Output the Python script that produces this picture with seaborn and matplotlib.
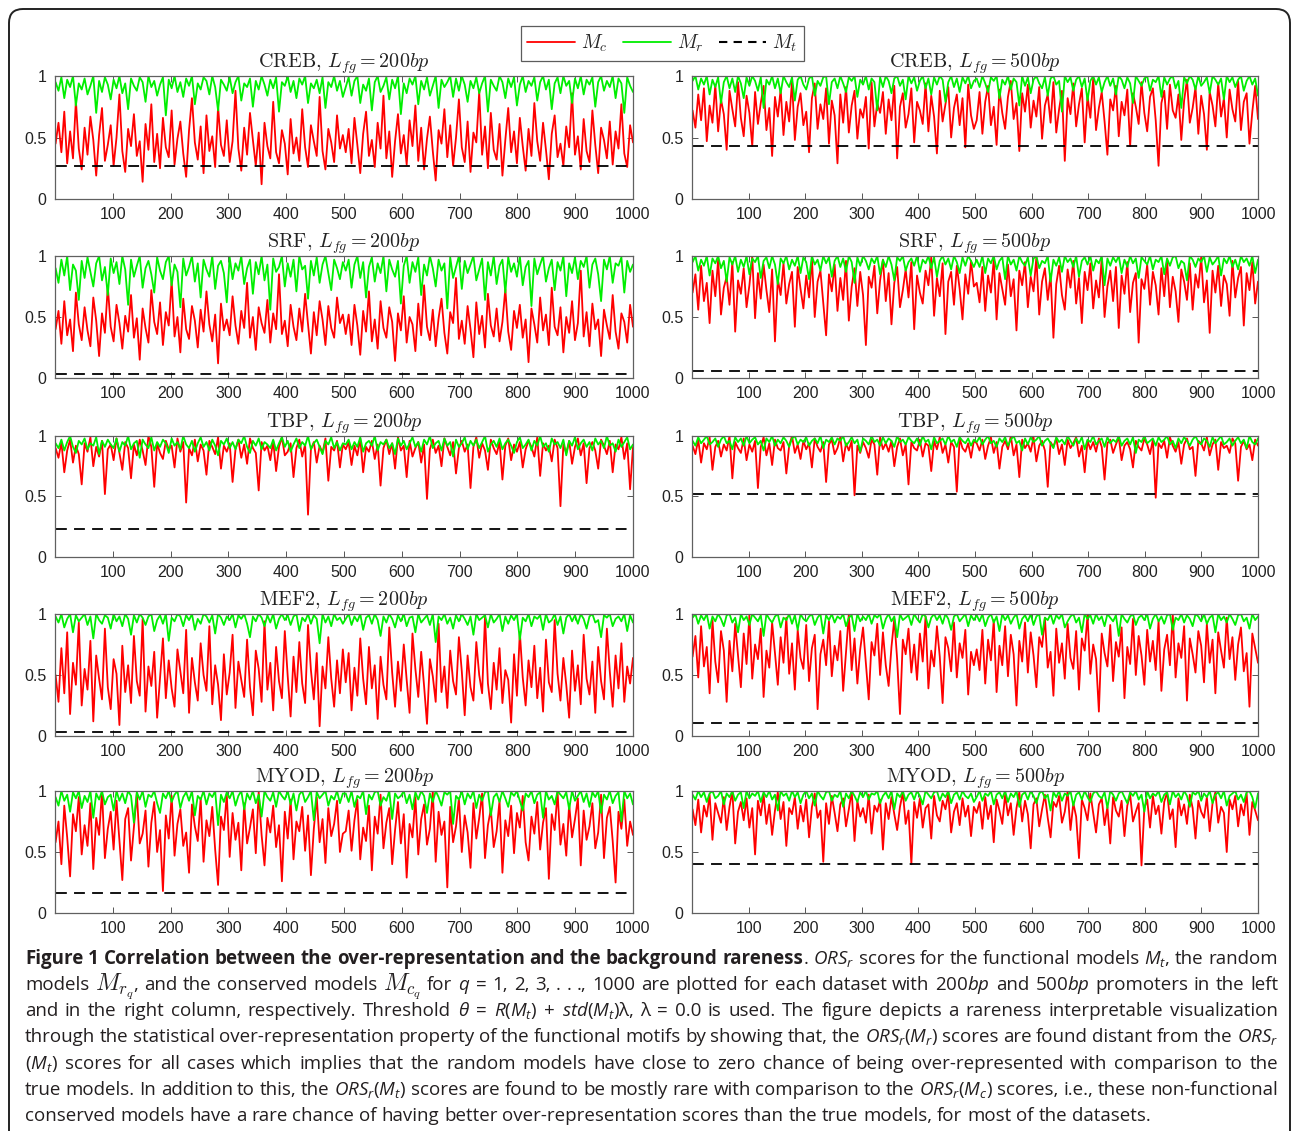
import numpy as np
import matplotlib
matplotlib.use("Agg")
import matplotlib.pyplot as plt
import seaborn as sns
from matplotlib.patches import FancyBboxPatch
from matplotlib.transforms import IdentityTransform
from matplotlib.lines import Line2D
from matplotlib.font_manager import FontProperties

# ---------------- data (ORS_r scores in percent, sampled every ~5 models) ----------------
creb_200_mc = [45, 62, 38, 71, 29, 55, 33, 80, 41, 24, 58, 36, 67, 48, 19, 52, 74, 31, 44, 60,
               27, 50, 85, 39, 22, 57, 43, 69, 35, 47, 14, 61, 40, 77, 30, 53, 25, 66, 42, 34,
               72, 28, 49, 63, 37, 18, 56, 82, 46, 32, 59, 21, 68, 39, 51, 26, 75, 44, 35, 64,
               30, 47, 88, 41, 23, 58, 36, 70, 48, 27, 54, 12, 62, 43, 33, 79, 38, 29, 56, 45,
               20, 65, 37, 50, 31, 73, 42, 26, 60, 47, 35, 83, 39, 24, 57, 46, 30, 68, 41, 52,
               38, 57, 29, 66, 44, 21, 53, 71, 35, 48, 26, 62, 41, 84, 33, 55, 18, 47, 69, 37,
               52, 28, 64, 43, 76, 31, 58, 24, 49, 67, 39, 15, 56, 45, 73, 34, 60, 27, 50, 81,
               42, 30, 63, 22, 54, 46, 87, 36, 59, 25, 70, 40, 32, 61, 19, 48, 74, 38, 55, 29,
               66, 43, 23, 57, 35, 78, 47, 31, 62, 40, 16, 53, 68, 34, 45, 27, 59, 42, 86, 36,
               51, 24, 65, 39, 30, 72, 44, 21, 58, 48, 33, 63, 28, 55, 41, 77, 37, 26, 60, 46]
creb_200_mr = [95, 88, 99, 82, 97, 91, 100, 76, 94, 89, 98, 85, 92, 100, 70, 96, 87, 99, 93, 81,
               97, 90, 100, 86, 94, 73, 98, 92, 88, 99, 95, 79, 100, 91, 96, 84, 93, 99, 68, 97,
               90, 100, 87, 95, 83, 98, 92, 100, 77, 94, 89, 99, 96, 85, 100, 91, 72, 97, 93, 88,
               99, 86, 95, 100, 80, 94, 91, 98, 75, 96, 89, 100, 93, 84, 97, 90, 99, 71, 95, 92,
               100, 87, 96, 82, 98, 93, 100, 78, 94, 90, 97, 86, 99, 74, 95, 91, 100, 88, 96, 83,
               91, 99, 84, 96, 100, 78, 93, 88, 98, 72, 95, 100, 87, 92, 99, 81, 97, 90, 100, 69,
               94, 86, 98, 93, 100, 77, 96, 89, 99, 84, 92, 100, 74, 97, 91, 95, 100, 83, 98, 88,
               100, 93, 79, 96, 90, 99, 86, 94, 100, 71, 97, 92, 88, 100, 95, 82, 98, 91, 99, 76,
               93, 100, 87, 96, 92, 99, 80, 95, 100, 89, 97, 73, 94, 99, 86, 100, 92, 96, 78, 98,
               90, 100, 85, 97, 93, 99, 75, 95, 100, 88, 96, 91, 100, 82, 98, 94, 70, 99, 92, 87]
creb_500_mc = [72, 58, 85, 64, 90, 47, 76, 62, 93, 55, 81, 69, 40, 88, 73, 59, 95, 66, 51, 84,
               70, 43, 87, 61, 78, 92, 56, 74, 35, 83, 67, 89, 52, 79, 63, 96, 48, 75, 86, 60,
               71, 38, 82, 94, 57, 77, 65, 90, 45, 80, 68, 29, 85, 62, 91, 54, 76, 88, 49, 73,
               66, 83, 41, 95, 59, 78, 70, 87, 53, 81, 64, 92, 33, 75, 86, 58, 69, 90, 46, 79,
               72, 61, 94, 55, 84, 67, 37, 88, 63, 77, 91, 50, 74, 85, 60, 82, 42, 93, 68, 57,
               64, 87, 53, 79, 92, 60, 75, 44, 89, 70, 57, 83, 96, 65, 78, 39, 86, 71, 93, 58,
               80, 67, 91, 49, 76, 85, 62, 95, 54, 73, 88, 31, 82, 69, 94, 59, 77, 90, 46, 84,
               66, 98, 56, 74, 87, 63, 36, 81, 72, 92, 51, 79, 68, 89, 43, 86, 75, 61, 95, 70,
               55, 83, 90, 64, 27, 78, 88, 57, 93, 72, 66, 85, 48, 80, 97, 62, 74, 91, 53, 84,
               69, 40, 87, 76, 59, 94, 67, 82, 50, 89, 73, 63, 96, 56, 79, 86, 45, 71, 92, 65]
creb_500_mr = [96, 100, 89, 98, 93, 100, 85, 97, 91, 99, 78, 95, 100, 90, 98, 87, 100, 94, 82, 99,
               92, 100, 96, 88, 99, 74, 97, 93, 100, 90, 98, 86, 100, 95, 91, 99, 80, 97, 100, 93,
               89, 98, 100, 84, 96, 92, 99, 100, 77, 95, 98, 90, 100, 94, 87, 99, 96, 100, 83, 97,
               93, 100, 89, 98, 95, 72, 99, 91, 100, 96, 86, 98, 100, 92, 97, 81, 100, 94, 99, 88,
               96, 100, 90, 98, 85, 99, 93, 100, 97, 79, 95, 100, 91, 98, 87, 99, 94, 100, 90, 96,
               98, 91, 100, 94, 87, 99, 96, 100, 82, 97, 93, 100, 89, 98, 95, 76, 100, 92, 99, 86,
               97, 100, 94, 90, 99, 84, 98, 100, 93, 96, 71, 100, 95, 99, 88, 97, 100, 91, 98, 80,
               96, 100, 93, 99, 87, 95, 100, 92, 98, 85, 100, 97, 90, 99, 94, 78, 100, 96, 92, 98,
               100, 88, 97, 95, 100, 83, 99, 93, 98, 100, 90, 96, 74, 99, 94, 100, 97, 89, 100, 92,
               95, 99, 86, 100, 97, 93, 98, 81, 100, 95, 99, 91, 97, 100, 88, 96, 100, 93, 98, 84]
srf_200_mc = [40, 55, 28, 63, 35, 48, 22, 70, 44, 31, 58, 39, 26, 66, 47, 18, 53, 37, 75, 42,
              30, 60, 45, 24, 51, 38, 68, 33, 49, 15, 57, 41, 29, 72, 46, 36, 62, 27, 54, 43,
              80, 34, 50, 21, 65, 40, 32, 59, 47, 25, 56, 38, 71, 44, 30, 52, 12, 61, 39, 48,
              35, 67, 43, 28, 55, 41, 78, 33, 50, 23, 58, 45, 37, 64, 29, 53, 40, 85, 36, 47,
              26, 60, 42, 31, 57, 38, 69, 44, 20, 54, 35, 63, 48, 27, 59, 41, 33, 66, 45, 52,
              36, 52, 27, 60, 43, 19, 55, 38, 71, 30, 48, 24, 63, 41, 33, 58, 46, 14, 53, 39,
              67, 29, 50, 44, 22, 61, 35, 76, 42, 31, 56, 26, 49, 65, 37, 20, 54, 45, 82, 32,
              47, 28, 59, 40, 17, 62, 36, 51, 25, 69, 43, 34, 57, 30, 46, 73, 38, 23, 55, 41,
              60, 33, 48, 13, 57, 44, 29, 66, 39, 52, 27, 74, 42, 35, 58, 21, 50, 37, 63, 31,
              45, 88, 34, 54, 26, 61, 40, 48, 18, 56, 43, 32, 68, 38, 24, 53, 46, 29, 60, 42]
srf_200_mr = [90, 78, 97, 84, 100, 72, 93, 88, 64, 96, 82, 99, 87, 75, 94, 100, 80, 91, 68, 98,
              86, 95, 77, 100, 89, 60, 97, 83, 92, 100, 74, 90, 96, 85, 70, 99, 88, 81, 95, 100,
              76, 93, 87, 58, 98, 84, 91, 100, 79, 94, 66, 97, 89, 83, 100, 73, 92, 96, 86, 62,
              99, 81, 94, 88, 100, 77, 90, 97, 69, 95, 85, 100, 80, 93, 56, 98, 87, 91, 100, 75,
              94, 83, 97, 71, 100, 89, 92, 65, 96, 84, 99, 78, 93, 100, 86, 72, 97, 90, 81, 95,
              88, 97, 74, 93, 100, 82, 95, 66, 91, 99, 79, 94, 86, 100, 71, 97, 89, 83, 96, 61,
              92, 100, 78, 95, 87, 99, 68, 93, 84, 100, 90, 75, 97, 88, 94, 57, 99, 82, 91, 100,
              73, 96, 86, 93, 100, 80, 89, 98, 64, 95, 84, 100, 77, 92, 97, 70, 99, 87, 94, 83,
              100, 76, 91, 96, 59, 98, 85, 93, 100, 79, 90, 97, 72, 95, 88, 100, 67, 94, 86, 99,
              81, 96, 91, 100, 74, 93, 98, 85, 63, 97, 89, 100, 78, 94, 92, 99, 70, 96, 87, 93]
srf_500_mc = [70, 85, 56, 92, 63, 78, 45, 88, 67, 97, 52, 74, 83, 60, 95, 38, 80, 69, 90, 58,
              76, 100, 49, 86, 65, 93, 72, 54, 89, 30, 81, 68, 94, 61, 77, 87, 42, 91, 73, 57,
              84, 66, 98, 50, 79, 88, 62, 35, 85, 71, 93, 55, 82, 64, 96, 47, 75, 90, 59, 87,
              68, 27, 83, 74, 92, 53, 80, 97, 63, 86, 44, 78, 91, 58, 72, 89, 66, 95, 40, 84,
              70, 61, 88, 76, 99, 51, 82, 67, 94, 36, 79, 87, 60, 92, 73, 48, 85, 69, 96, 75,
              78, 62, 91, 55, 84, 70, 97, 48, 86, 73, 60, 93, 67, 81, 39, 88, 76, 95, 58, 83,
              71, 99, 52, 79, 90, 64, 85, 33, 77, 92, 68, 56, 89, 74, 96, 61, 82, 45, 87, 72,
              94, 57, 80, 66, 98, 50, 75, 88, 63, 91, 41, 84, 69, 95, 54, 78, 86, 29, 81, 73,
              93, 60, 87, 76, 52, 90, 67, 97, 58, 83, 71, 46, 89, 79, 64, 94, 56, 85, 74, 99,
              62, 80, 37, 88, 70, 92, 59, 84, 77, 51, 96, 66, 82, 91, 43, 86, 72, 95, 61, 79]
srf_500_mr = [95, 100, 88, 97, 92, 100, 84, 98, 94, 100, 90, 96, 79, 99, 93, 100, 87, 97, 91, 100,
              85, 98, 95, 100, 82, 96, 99, 90, 100, 93, 77, 98, 94, 100, 89, 97, 92, 100, 86, 99,
              95, 81, 100, 93, 97, 88, 100, 94, 99, 83, 96, 100, 91, 98, 87, 100, 95, 78, 99, 92,
              100, 96, 89, 98, 94, 100, 85, 97, 91, 100, 93, 80, 99, 96, 100, 88, 95, 98, 92, 100,
              87, 97, 94, 100, 90, 99, 83, 96, 100, 93, 98, 89, 100, 95, 86, 99, 92, 100, 96, 91,
              97, 91, 100, 86, 98, 94, 100, 89, 96, 99, 81, 100, 93, 97, 88, 100, 95, 92, 99, 84,
              98, 100, 90, 96, 94, 100, 79, 97, 92, 99, 87, 100, 95, 98, 91, 100, 83, 96, 99, 93,
              100, 88, 97, 94, 100, 76, 98, 92, 99, 95, 100, 86, 97, 91, 100, 94, 98, 82, 99, 96,
              93, 100, 89, 97, 95, 100, 85, 98, 92, 99, 100, 90, 96, 94, 80, 100, 97, 91, 98, 95,
              100, 87, 99, 93, 96, 100, 84, 98, 94, 100, 91, 97, 89, 100, 95, 98, 92, 100, 86, 97]
tbp_200_mc = [90, 82, 95, 70, 88, 97, 78, 92, 85, 60, 94, 87, 99, 75, 91, 83, 96, 52, 89, 93,
              80, 98, 86, 72, 95, 90, 65, 93, 84, 97, 88, 76, 100, 91, 58, 94, 86, 81, 96, 89,
              92, 74, 98, 87, 95, 45, 90, 84, 97, 79, 93, 88, 68, 96, 91, 85, 99, 73, 92, 87,
              94, 62, 89, 97, 82, 93, 77, 98, 90, 86, 55, 95, 88, 92, 80, 96, 71, 91, 99, 84,
              87, 94, 66, 90, 97, 83, 93, 35, 89, 95, 78, 92, 86, 98, 63, 91, 88, 96, 74, 93,
              89, 95, 76, 92, 84, 98, 70, 91, 87, 96, 81, 93, 59, 90, 97, 85, 94, 73, 99, 88,
              92, 66, 96, 83, 90, 95, 78, 93, 48, 89, 97, 86, 92, 75, 98, 91, 84, 95, 69, 90,
              96, 87, 93, 57, 91, 99, 82, 94, 88, 72, 97, 90, 85, 95, 64, 92, 98, 80, 93, 87,
              95, 74, 89, 96, 91, 83, 99, 67, 94, 88, 92, 79, 97, 90, 42, 93, 86, 96, 77, 91,
              98, 84, 94, 61, 90, 95, 88, 73, 97, 92, 85, 96, 70, 93, 89, 99, 81, 94, 56, 91]
tbp_200_mr = [94, 90, 97, 88, 95, 100, 91, 86, 96, 93, 98, 89, 94, 92, 99, 85, 96, 91, 97, 93,
              90, 98, 87, 95, 92, 100, 89, 94, 96, 82, 97, 93, 90, 99, 88, 95, 91, 97, 94, 86,
              98, 92, 95, 89, 100, 93, 90, 96, 87, 94, 99, 91, 95, 88, 97, 92, 84, 96, 93, 98,
              90, 95, 89, 97, 94, 100, 91, 86, 96, 92, 98, 89, 95, 93, 90, 97, 88, 94, 99, 91,
              96, 87, 93, 98, 90, 95, 92, 100, 89, 94, 97, 91, 85, 96, 93, 99, 90, 95, 88, 94,
              93, 97, 89, 95, 91, 99, 87, 94, 96, 92, 100, 88, 95, 93, 97, 90, 94, 85, 98, 92,
              96, 89, 94, 99, 91, 95, 87, 97, 93, 100, 90, 94, 96, 88, 98, 92, 95, 83, 97, 91,
              94, 99, 89, 96, 92, 97, 90, 95, 100, 87, 93, 96, 91, 98, 89, 94, 97, 92, 86, 95,
              99, 90, 93, 97, 88, 96, 92, 100, 91, 94, 87, 98, 93, 95, 90, 97, 84, 96, 92, 99,
              89, 94, 97, 91, 95, 88, 98, 93, 96, 90, 100, 92, 94, 87, 97, 91, 95, 99, 89, 93]
tbp_500_mc = [92, 85, 97, 78, 94, 89, 99, 72, 91, 96, 83, 93, 88, 100, 65, 95, 90, 86, 98, 80,
              93, 87, 96, 57, 91, 99, 84, 94, 76, 97, 90, 88, 95, 69, 92, 100, 86, 93, 81, 96,
              89, 94, 74, 98, 91, 87, 95, 62, 93, 97, 85, 90, 99, 79, 94, 88, 96, 51, 92, 86,
              95, 90, 82, 97, 93, 68, 99, 89, 94, 87, 96, 75, 91, 98, 84, 93, 60, 95, 90, 88,
              97, 83, 94, 92, 71, 96, 89, 99, 86, 93, 78, 95, 91, 54, 98, 90, 87, 94, 82, 96,
              94, 88, 97, 81, 92, 99, 86, 95, 73, 91, 96, 89, 100, 84, 93, 66, 97, 90, 94, 87,
              99, 79, 92, 96, 88, 58, 95, 91, 98, 85, 93, 76, 97, 90, 94, 99, 83, 92, 70, 96,
              89, 95, 87, 98, 91, 64, 94, 97, 86, 93, 99, 80, 92, 95, 89, 74, 96, 91, 88, 98,
              93, 85, 97, 49, 94, 90, 96, 82, 99, 92, 87, 95, 77, 93, 98, 89, 91, 67, 96, 94,
              88, 99, 84, 93, 97, 72, 95, 90, 92, 86, 98, 94, 63, 91, 96, 89, 93, 80, 97, 92]
tbp_500_mr = [96, 92, 99, 94, 97, 100, 93, 95, 98, 91, 97, 100, 94, 96, 89, 99, 95, 98, 92, 100,
              94, 97, 99, 93, 96, 88, 98, 95, 100, 92, 97, 94, 99, 96, 91, 98, 100, 93, 97, 95,
              99, 92, 96, 98, 94, 100, 90, 97, 95, 99, 93, 98, 96, 100, 92, 95, 99, 94, 97, 87,
              98, 96, 93, 100, 95, 97, 92, 99, 94, 98, 96, 91, 100, 95, 97, 93, 99, 96, 94, 98,
              92, 100, 95, 97, 89, 99, 94, 96, 98, 93, 100, 95, 97, 91, 99, 96, 94, 98, 92, 97,
              95, 99, 93, 97, 100, 94, 96, 91, 98, 95, 99, 92, 97, 100, 94, 96, 88, 98, 93, 99,
              95, 97, 100, 92, 96, 98, 94, 90, 99, 95, 97, 93, 100, 96, 92, 98, 94, 99, 89, 97,
              95, 100, 93, 96, 98, 91, 99, 94, 97, 95, 100, 92, 96, 98, 93, 99, 86, 97, 95, 100,
              94, 96, 98, 92, 99, 95, 97, 100, 93, 96, 90, 98, 94, 99, 96, 92, 97, 100, 95, 93,
              98, 96, 91, 99, 94, 97, 100, 93, 95, 98, 92, 96, 99, 94, 97, 90, 100, 95, 93, 98]
mef2_200_mc = [50, 28, 72, 35, 85, 18, 60, 42, 93, 25, 55, 38, 78, 12, 66, 47, 30, 88, 40, 22,
               63, 51, 9, 74, 36, 58, 27, 82, 45, 33, 96, 20, 57, 41, 69, 15, 48, 80, 31, 62,
               39, 24, 71, 53, 35, 87, 19, 64, 44, 29, 76, 50, 37, 90, 26, 58, 42, 13, 67, 34,
               52, 83, 23, 61, 46, 32, 79, 40, 17, 70, 55, 28, 94, 38, 60, 21, 73, 45, 31, 86,
               49, 16, 65, 36, 77, 43, 27, 91, 54, 30, 68, 8, 57, 39, 81, 47, 24, 62, 35, 71,
               44, 68, 21, 56, 33, 80, 47, 26, 73, 39, 58, 14, 65, 42, 30, 89, 52, 24, 61, 37,
               75, 46, 19, 84, 55, 32, 69, 41, 10, 63, 49, 28, 92, 36, 57, 23, 70, 45, 34, 81,
               53, 17, 66, 40, 29, 77, 50, 35, 98, 43, 22, 60, 38, 72, 27, 54, 46, 11, 67, 33,
               85, 48, 25, 62, 40, 74, 31, 56, 20, 79, 44, 36, 95, 51, 29, 64, 42, 15, 70, 37,
               58, 26, 83, 47, 34, 61, 19, 73, 45, 30, 88, 53, 24, 66, 39, 76, 28, 57, 43, 64]
mef2_200_mr = [98, 93, 100, 89, 96, 100, 85, 99, 94, 97, 100, 91, 98, 80, 100, 95, 92, 99, 97, 88,
               100, 94, 98, 90, 100, 96, 83, 99, 93, 100, 97, 91, 98, 100, 86, 95, 99, 92, 100, 78,
               97, 94, 100, 98, 90, 99, 95, 100, 87, 96, 92, 100, 98, 93, 99, 84, 100, 97, 91, 98,
               95, 100, 89, 99, 96, 100, 92, 81, 98, 94, 100, 97, 90, 99, 93, 100, 88, 96, 100, 95,
               99, 91, 98, 100, 86, 97, 94, 100, 92, 99, 96, 76, 100, 93, 98, 90, 100, 95, 97, 92,
               96, 100, 91, 98, 94, 100, 87, 97, 99, 92, 100, 95, 82, 98, 93, 100, 96, 89, 99, 94,
               100, 90, 97, 98, 85, 100, 93, 96, 99, 91, 100, 77, 98, 95, 100, 92, 97, 88, 99, 94,
               100, 96, 91, 98, 83, 100, 95, 97, 99, 89, 100, 93, 96, 100, 86, 98, 92, 99, 95, 100,
               79, 97, 94, 100, 90, 98, 96, 99, 87, 100, 93, 95, 100, 91, 98, 84, 97, 100, 94, 99,
               92, 100, 96, 88, 98, 100, 93, 95, 81, 99, 97, 100, 90, 96, 98, 94, 100, 86, 99, 93]
mef2_500_mc = [65, 82, 48, 90, 57, 73, 35, 95, 61, 44, 86, 70, 28, 78, 53, 92, 66, 40, 84, 59,
               99, 47, 75, 63, 88, 32, 70, 56, 93, 68, 42, 81, 60, 97, 51, 76, 38, 87, 64, 55,
               91, 45, 72, 83, 22, 67, 79, 58, 94, 49, 74, 62, 86, 37, 69, 100, 54, 80, 43, 71,
               89, 60, 30, 77, 66, 92, 50, 85, 58, 41, 73, 96, 63, 18, 79, 67, 88, 52, 75, 46,
               84, 61, 98, 39, 70, 57, 90, 65, 27, 81, 72, 53, 93, 48, 76, 64, 87, 34, 69, 58,
               71, 54, 87, 43, 79, 62, 95, 36, 74, 58, 90, 49, 83, 67, 25, 78, 61, 93, 52, 85,
               66, 40, 81, 73, 97, 56, 69, 33, 88, 60, 76, 47, 92, 64, 55, 86, 38, 80, 70, 99,
               51, 75, 63, 20, 84, 68, 57, 91, 45, 77, 65, 89, 31, 73, 59, 96, 50, 82, 66, 42,
               87, 61, 78, 54, 94, 37, 71, 83, 58, 100, 48, 76, 64, 90, 29, 80, 67, 52, 86, 74,
               44, 92, 60, 79, 35, 85, 70, 56, 97, 63, 81, 46, 75, 89, 53, 68, 24, 84, 72, 60]
mef2_500_mr = [97, 100, 92, 99, 95, 100, 88, 98, 94, 100, 96, 90, 99, 100, 93, 97, 85, 100, 95, 98,
               91, 100, 97, 94, 99, 82, 100, 96, 93, 98, 100, 89, 97, 95, 100, 92, 99, 87, 100, 96,
               94, 98, 100, 91, 97, 100, 84, 99, 95, 100, 93, 98, 96, 100, 90, 97, 99, 86, 100, 94,
               98, 95, 100, 92, 99, 97, 100, 88, 96, 100, 94, 98, 81, 100, 95, 97, 99, 91, 100, 96,
               93, 100, 98, 89, 97, 100, 95, 99, 92, 100, 96, 87, 98, 100, 94, 97, 100, 90, 99, 95,
               99, 94, 100, 90, 97, 100, 93, 98, 86, 100, 95, 99, 92, 97, 100, 88, 96, 99, 94, 100,
               91, 98, 100, 83, 97, 95, 100, 92, 99, 96, 100, 89, 94, 98, 100, 93, 97, 85, 100, 96,
               99, 92, 100, 95, 98, 90, 100, 97, 94, 99, 82, 100, 96, 93, 98, 100, 91, 97, 99, 95,
               100, 88, 96, 100, 94, 98, 92, 99, 100, 87, 97, 95, 100, 93, 99, 96, 90, 100, 98, 94,
               100, 92, 97, 99, 85, 100, 95, 98, 93, 100, 96, 91, 99, 100, 94, 97, 88, 100, 95, 98]
myod_200_mc = [58, 75, 40, 88, 62, 30, 81, 67, 95, 48, 72, 55, 90, 36, 78, 64, 100, 45, 69, 83,
               52, 92, 60, 27, 77, 86, 43, 70, 98, 57, 65, 84, 38, 74, 91, 50, 68, 18, 80, 61,
               96, 47, 73, 85, 55, 66, 33, 89, 71, 59, 94, 42, 76, 63, 87, 52, 23, 79, 68, 97,
               46, 82, 60, 74, 35, 90, 57, 70, 85, 49, 99, 64, 39, 78, 66, 88, 54, 72, 26, 83,
               61, 93, 44, 75, 67, 87, 51, 80, 31, 69, 95, 58, 77, 41, 86, 63, 73, 92, 50, 65,
               67, 84, 51, 76, 93, 44, 70, 59, 88, 35, 79, 65, 97, 53, 74, 86, 40, 68, 91, 57,
               81, 29, 73, 62, 95, 48, 77, 89, 56, 69, 100, 42, 83, 64, 75, 21, 87, 58, 71, 94,
               50, 80, 66, 37, 90, 61, 78, 98, 45, 72, 85, 54, 67, 92, 33, 76, 63, 88, 49, 82,
               70, 96, 58, 43, 79, 65, 91, 52, 74, 86, 28, 81, 68, 99, 56, 73, 47, 89, 62, 77,
               94, 39, 84, 60, 71, 90, 53, 66, 97, 45, 78, 87, 59, 25, 83, 69, 93, 55, 75, 64]
myod_200_mr = [95, 88, 100, 92, 97, 83, 99, 94, 100, 86, 96, 91, 100, 78, 98, 93, 100, 89, 95, 97,
               84, 100, 92, 98, 90, 100, 96, 74, 99, 93, 100, 87, 97, 95, 100, 90, 82, 98, 94, 100,
               91, 97, 100, 86, 95, 99, 92, 100, 80, 96, 93, 100, 89, 98, 95, 100, 72, 97, 91, 99,
               94, 100, 88, 96, 100, 85, 98, 93, 100, 90, 97, 79, 100, 95, 92, 99, 87, 100, 96, 93,
               100, 89, 98, 84, 97, 100, 91, 95, 100, 76, 99, 94, 97, 100, 88, 96, 93, 100, 90, 98,
               98, 91, 100, 87, 96, 94, 100, 81, 97, 93, 99, 100, 88, 95, 92, 100, 77, 98, 94, 96,
               100, 90, 97, 85, 99, 93, 100, 96, 82, 98, 91, 100, 95, 88, 99, 97, 100, 73, 96, 93,
               100, 89, 98, 94, 100, 86, 97, 92, 99, 100, 80, 95, 98, 91, 100, 94, 87, 99, 96, 100,
               92, 84, 98, 95, 100, 90, 97, 99, 78, 100, 93, 96, 89, 100, 97, 94, 99, 85, 100, 92,
               96, 100, 91, 98, 87, 99, 95, 100, 82, 97, 93, 100, 90, 96, 99, 75, 100, 94, 98, 89]
myod_500_mc = [85, 72, 93, 66, 88, 79, 97, 60, 90, 82, 74, 95, 68, 87, 100, 57, 83, 91, 76, 94,
               70, 86, 48, 92, 80, 97, 73, 89, 64, 84, 99, 77, 91, 55, 86, 81, 95, 69, 88, 75,
               93, 62, 87, 98, 78, 84, 42, 90, 73, 96, 82, 67, 89, 94, 71, 85, 100, 59, 92, 79,
               86, 74, 97, 65, 88, 83, 93, 52, 90, 77, 95, 81, 68, 87, 99, 73, 84, 40, 91, 78,
               94, 70, 86, 89, 61, 96, 80, 75, 92, 85, 98, 66, 83, 90, 72, 94, 79, 88, 63, 87,
               82, 91, 69, 95, 77, 88, 58, 93, 84, 73, 97, 80, 90, 64, 86, 99, 75, 92, 81, 53,
               89, 94, 71, 85, 97, 78, 62, 91, 87, 96, 74, 83, 100, 68, 90, 79, 45, 93, 86, 76,
               98, 82, 66, 89, 94, 72, 87, 57, 95, 84, 79, 92, 63, 88, 97, 75, 83, 90, 39, 86,
               93, 70, 96, 81, 88, 65, 91, 99, 77, 85, 54, 94, 80, 89, 73, 97, 86, 61, 92, 83,
               78, 95, 67, 90, 99, 74, 87, 82, 50, 93, 85, 96, 71, 89, 80, 98, 64, 91, 84, 76]
myod_500_mr = [97, 93, 100, 95, 99, 91, 98, 100, 94, 96, 100, 89, 98, 95, 100, 92, 97, 99, 86, 100,
               94, 98, 96, 100, 91, 99, 95, 100, 93, 97, 84, 100, 96, 98, 92, 100, 95, 99, 90, 97,
               100, 94, 98, 88, 100, 96, 93, 99, 100, 92, 97, 95, 100, 87, 98, 94, 100, 96, 91, 99,
               95, 100, 93, 98, 97, 100, 90, 96, 99, 94, 100, 85, 98, 95, 100, 92, 97, 99, 93, 100,
               96, 89, 100, 97, 94, 99, 100, 92, 98, 95, 100, 90, 97, 99, 93, 100, 96, 94, 98, 91,
               95, 100, 92, 98, 96, 100, 89, 97, 99, 94, 100, 91, 98, 95, 100, 87, 97, 99, 93, 100,
               96, 90, 98, 100, 94, 97, 84, 99, 95, 100, 92, 98, 96, 100, 88, 97, 99, 93, 100, 95,
               91, 98, 100, 96, 94, 99, 86, 100, 97, 92, 98, 100, 95, 90, 99, 96, 100, 93, 97, 83,
               100, 94, 98, 96, 100, 91, 97, 99, 89, 100, 95, 98, 93, 100, 96, 87, 99, 97, 100, 92,
               98, 95, 100, 90, 97, 99, 94, 100, 88, 96, 98, 100, 93, 97, 91, 99, 100, 95, 86, 98]

# threshold scores of the true models M_t (left column: 200bp, right column: 500bp)
datasets = ["CREB", "SRF", "TBP", "MEF2", "MYOD"]
mt_200 = [0.27, 0.03, 0.23, 0.03, 0.16]
mt_500 = [0.43, 0.06, 0.52, 0.11, 0.40]
promoter_lengths = ["200", "500"]
mc_series = {("CREB", "200"): creb_200_mc, ("CREB", "500"): creb_500_mc,
             ("SRF", "200"): srf_200_mc, ("SRF", "500"): srf_500_mc,
             ("TBP", "200"): tbp_200_mc, ("TBP", "500"): tbp_500_mc,
             ("MEF2", "200"): mef2_200_mc, ("MEF2", "500"): mef2_500_mc,
             ("MYOD", "200"): myod_200_mc, ("MYOD", "500"): myod_500_mc}
mr_series = {("CREB", "200"): creb_200_mr, ("CREB", "500"): creb_500_mr,
             ("SRF", "200"): srf_200_mr, ("SRF", "500"): srf_500_mr,
             ("TBP", "200"): tbp_200_mr, ("TBP", "500"): tbp_500_mr,
             ("MEF2", "200"): mef2_200_mr, ("MEF2", "500"): mef2_500_mr,
             ("MYOD", "200"): myod_200_mr, ("MYOD", "500"): myod_500_mr}
x_ticks = [100, 200, 300, 400, 500, 600, 700, 800, 900, 1000]
y_ticks = [0, 0.5, 1]
y_ticklabels = ["0", "0.5", "1"]

# caption: "*" = bold word, "~" = glued to previous word, "^" = large serif math
caption_lines = [
    "*Figure *1 *Correlation *between *the *over-representation *and *the *background *rareness ~. "
    "$ORS_r$ scores for the functional models $M_t$, the random",
    "models ^$M_{r_q}$ ~, and the conserved models ^$M_{c_q}$ for $q$ = 1, 2, 3, . . ., 1000 are plotted "
    "for each dataset with 200$bp$ and 500$bp$ promoters in the left",
    "and in the right column, respectively. Threshold $\\theta$ = $R$($M_t$) + $std$($M_t$)λ, λ = 0.0 "
    "is used. The figure depicts a rareness interpretable visualization",
    "through the statistical over-representation property of the functional motifs by showing that, "
    "the $ORS_r$($M_r$) scores are found distant from the $ORS_r$",
    "($M_t$) scores for all cases which implies that the random models have close to zero chance "
    "of being over-represented with comparison to the",
    "true models. In addition to this, the $ORS_r$($M_t$) scores are found to be mostly rare with "
    "comparison to the $ORS_r$($M_c$) scores, i.e., these non-functional",
    "conserved models have a rare chance of having better over-representation scores than the "
    "true models, for most of the datasets.",
]

# ---------------- styling ----------------
sns.set_theme(style="white")
plt.rcParams["font.family"] = ["Liberation Sans", "DejaVu Sans"]
plt.rcParams["mathtext.fontset"] = "custom"
plt.rcParams["mathtext.rm"] = "Open Sans"
plt.rcParams["mathtext.it"] = "Open Sans:italic"
plt.rcParams["mathtext.bf"] = "Open Sans:bold"

W, H = 1293, 1131
fig = plt.figure(figsize=(W / 100, H / 100), dpi=100)
fig.patch.set_facecolor("white")

col_px = [(55, 633), (692, 1258)]
row_px = [(76, 199), (256, 378), (436, 557), (614, 736), (791, 913)]
RED, GREEN = "#ff0000", "#00ee00"

for r, ds in enumerate(datasets):
    for c, L in enumerate(promoter_lengths):
        x0, x1 = col_px[c]
        y0, y1 = row_px[r]
        ax = fig.add_axes([x0 / W, 1 - y1 / H, (x1 - x0) / W, (y1 - y0) / H])
        mc = np.array(mc_series[(ds, L)]) / 100.0
        mr = np.array(mr_series[(ds, L)]) / 100.0
        xs = np.linspace(1, 1000, len(mc))
        sns.lineplot(x=xs, y=mc, ax=ax, color=RED, lw=1.3, estimator=None, sort=False)
        sns.lineplot(x=xs, y=mr, ax=ax, color=GREEN, lw=1.3, estimator=None, sort=False)
        thr = (mt_200 if L == "200" else mt_500)[r]
        sns.lineplot(x=[1, 1000], y=[thr, thr], ax=ax, color="black", lw=1.3,
                     linestyle=(0, (6, 4)), estimator=None)
        ax.set_xlim(0, 1000)
        ax.set_ylim(0, 1)
        ax.set_xticks(x_ticks)
        ax.set_xticklabels([str(v) for v in x_ticks])
        ax.set_yticks(y_ticks)
        ax.set_yticklabels(y_ticklabels)
        ax.tick_params(direction="in", length=4, width=0.7, colors="#555555",
                       labelcolor="#222222", labelsize=11.5, top=True, right=True,
                       bottom=True, left=True, pad=6)
        for sp in ax.spines.values():
            sp.set_color("#606060")
            sp.set_linewidth(0.9)
        ax.set_xlabel("")
        ax.set_ylabel("")
        ax.set_title(ds + ", $L_{fg} = " + L + "bp$", fontsize=14.5, family="cmr10",
                     math_fontfamily="cm", pad=6, color="#222222")

# legend
handles = [Line2D([], [], color=RED, lw=1.3),
           Line2D([], [], color=GREEN, lw=1.3),
           Line2D([], [], color="black", lw=1.5, linestyle=(0, (4, 3)))]
leg = fig.legend(handles, ["$M_c$", "$M_r$", "$M_t$"], loc="center",
                 bbox_to_anchor=(662.5 / W, 1 - 43.5 / H), ncol=3,
                 prop=FontProperties(family="DejaVu Serif", size=14, math_fontfamily="cm"),
                 frameon=True, fancybox=False, edgecolor="#333333", handlelength=2.45,
                 columnspacing=0.8, handletextpad=0.3, borderpad=0.35)
leg.get_frame().set_linewidth(0.9)

# rounded outer border
fig.add_artist(FancyBboxPatch((9, -40), 1281, 1162, boxstyle="round,pad=0,rounding_size=14",
                              transform=IdentityTransform(), fill=False, ec="#222222", lw=1.4))

# caption
renderer = fig.canvas.get_renderer()
CAP_L, CAP_R = 25, 1278
baselines = [964, 990, 1016, 1042, 1069, 1095, 1121]


def place_line(line, y_px, fs, justify):
    items = []
    for tok in line.split(" "):
        if tok == "":
            continue
        weight, glue, cm = "normal", False, False
        while len(tok) > 1 and tok[0] in "*~^":
            if tok[0] == "*":
                weight = "bold"
            elif tok[0] == "~":
                glue = True
            else:
                cm = True
            tok = tok[1:]
        kw = dict(fontsize=fs * (1.3 if cm else 1.0), fontweight=weight,
                  family=["Open Sans", "DejaVu Sans"], color="#231f20")
        if cm:
            kw["math_fontfamily"] = "cm"
        t = fig.text(0, 0, tok, transform=IdentityTransform(), ha="left", va="baseline", **kw)
        items.append((t, glue))
    widths = [t.get_window_extent(renderer).width for t, _ in items]
    ngaps = sum(1 for i, (_, g) in enumerate(items) if i > 0 and not g)
    space = fs * 100 / 72 * 0.26
    natural = sum(widths) + ngaps * space
    gap = (CAP_R - CAP_L - sum(widths)) / ngaps if justify else space
    x = CAP_L
    for i, (t, g) in enumerate(items):
        if i > 0 and not g:
            x += gap
        t.set_position((x, H - y_px))
        x += widths[i]
    return natural, items


# fit font size so the (unjustified) last line matches the reference width
nat, its = place_line(caption_lines[-1], baselines[-1], 12.0, False)
for t, _ in its:
    t.remove()
cap_fs = 12.0 * (1143 - CAP_L) / nat
for i, line in enumerate(caption_lines):
    place_line(line, baselines[i], cap_fs, i < len(caption_lines) - 1)

fig.savefig("out.png", dpi=100, facecolor="white")
